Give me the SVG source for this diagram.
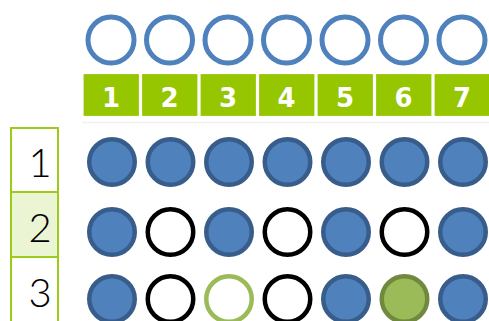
<svg xmlns="http://www.w3.org/2000/svg" width="489" height="321" viewBox="0 0 489 321">
<style>
.top{fill:#fff;stroke:#4F81BD;stroke-width:5}
.hdr{fill:#95C600;stroke:#fff;stroke-width:2.2}
.hnum{font-family:"DejaVu Sans","Liberation Sans",sans-serif;font-weight:bold;font-size:26px;fill:#fff;text-anchor:middle}
.lab{fill:#fff;stroke:#9CCB19;stroke-width:2}
.lab2{fill:#EBF4D3;stroke:#9CCB19;stroke-width:2}
.lnum{font-family:"Lato","Liberation Sans",sans-serif;font-weight:300;font-size:40px;fill:#000;text-anchor:middle}
.b{fill:#4F81BD;stroke:#385D8A;stroke-width:4.5}
.k{fill:#fff;stroke:#000;stroke-width:4.5}
.go{fill:#fff;stroke:#9BBB59;stroke-width:4.5}
.gf{fill:#9BBB59;stroke:#71893F;stroke-width:4.5}
</style>
<g id="top-circles">
<circle class="top" cx="111" cy="40" r="23"/>
<circle class="top" cx="169.5" cy="40" r="23"/>
<circle class="top" cx="228" cy="40" r="23"/>
<circle class="top" cx="286.5" cy="40" r="23"/>
<circle class="top" cx="345" cy="40" r="23"/>
<circle class="top" cx="403.5" cy="40" r="23"/>
<circle class="top" cx="462" cy="40" r="23"/>
</g>
<g id="header">
<rect class="hdr" x="82.5" y="73" width="57.5" height="44"/>
<rect class="hdr" x="141" y="73" width="57.5" height="44"/>
<rect class="hdr" x="199.5" y="73" width="57.5" height="44"/>
<rect class="hdr" x="258" y="73" width="57.5" height="44"/>
<rect class="hdr" x="316.5" y="73" width="57.5" height="44"/>
<rect class="hdr" x="375" y="73" width="57.5" height="44"/>
<rect class="hdr" x="433.5" y="73" width="57.5" height="44"/>
<text class="hnum" x="111" y="107">1</text>
<text class="hnum" x="169.5" y="107">2</text>
<text class="hnum" x="228" y="107">3</text>
<text class="hnum" x="286.5" y="107">4</text>
<text class="hnum" x="345" y="107">5</text>
<text class="hnum" x="403.5" y="107">6</text>
<text class="hnum" x="462" y="107">7</text>
<line x1="82" y1="122.5" x2="489" y2="122.5" stroke="#f0f0f0" stroke-width="1.5"/>
</g>
<g id="row-labels">
<rect class="lab" x="11" y="128" width="47" height="64"/>
<rect class="lab2" x="11" y="192" width="47" height="65"/>
<rect class="lab" x="11" y="257" width="47" height="70"/>
<text class="lnum" x="40" y="177">1</text>
<text class="lnum" x="40" y="242">2</text>
<text class="lnum" x="40" y="307">3</text>
</g>
<g id="row1">
<circle class="b" cx="112" cy="162" r="22.75"/>
<circle class="b" cx="170.5" cy="162" r="22.75"/>
<circle class="b" cx="229" cy="162" r="22.75"/>
<circle class="b" cx="287.5" cy="162" r="22.75"/>
<circle class="b" cx="346" cy="162" r="22.75"/>
<circle class="b" cx="404.5" cy="162" r="22.75"/>
<circle class="b" cx="463" cy="162" r="22.75"/>
</g>
<g id="row2">
<circle class="b" cx="112" cy="232" r="22.75"/>
<circle class="k" cx="170.5" cy="232" r="22.75"/>
<circle class="b" cx="229" cy="232" r="22.75"/>
<circle class="k" cx="287.5" cy="232" r="22.75"/>
<circle class="b" cx="346" cy="232" r="22.75"/>
<circle class="k" cx="404.5" cy="232" r="22.75"/>
<circle class="b" cx="463" cy="232" r="22.75"/>
</g>
<g id="row3">
<circle class="b" cx="112" cy="299" r="22.75"/>
<circle class="k" cx="170.5" cy="299" r="22.75"/>
<circle class="go" cx="229" cy="299" r="22.75"/>
<circle class="k" cx="287.5" cy="299" r="22.75"/>
<circle class="b" cx="346" cy="299" r="22.75"/>
<circle class="gf" cx="404.5" cy="299" r="22.75"/>
<circle class="b" cx="463" cy="299" r="22.75"/>
</g>
<g id="connectors"/>
</svg>
